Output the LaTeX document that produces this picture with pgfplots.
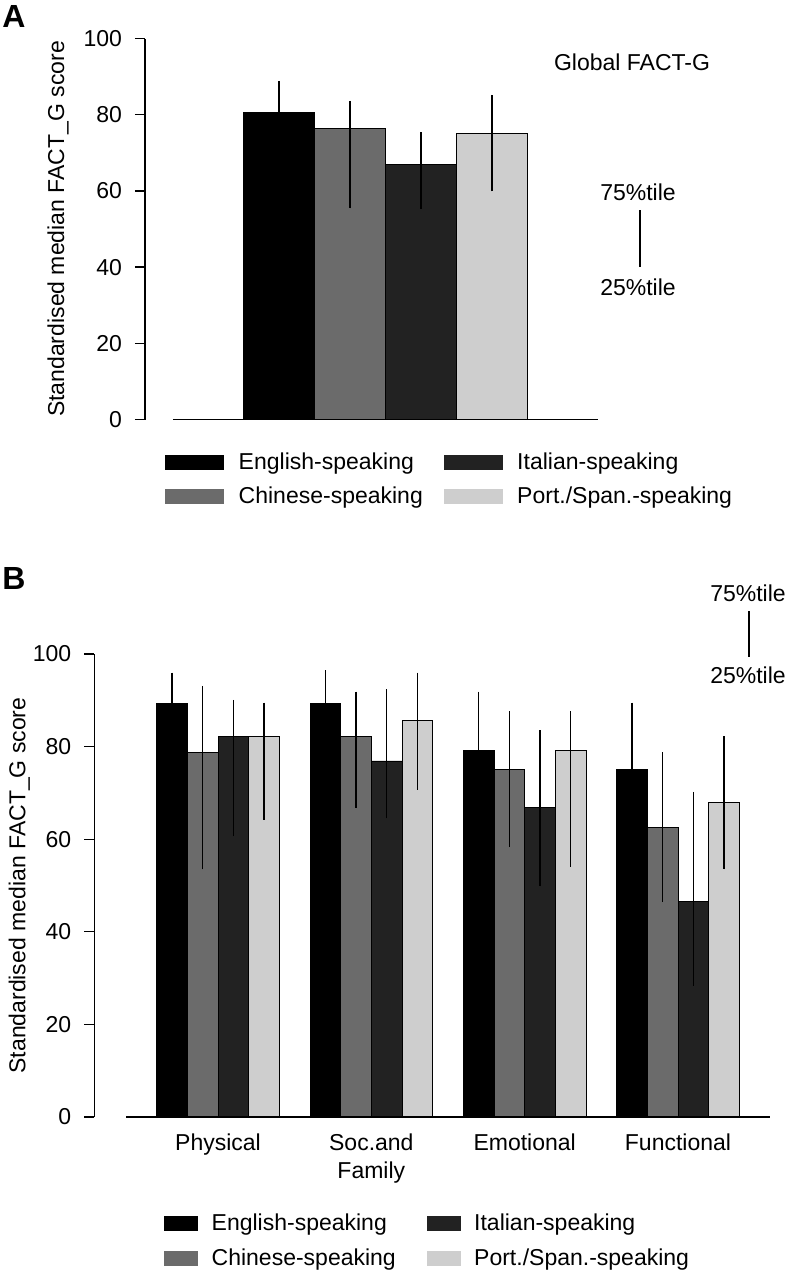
\documentclass[border=0pt]{standalone}
\usepackage{fontspec}
\setmainfont{Liberation Sans}
\usepackage{pgfplots}
\pgfplotsset{compat=1.18}
\usepackage{pgfplotstable}

\definecolor{cEng}{HTML}{000000}
\definecolor{cChi}{HTML}{6B6B6B}
\definecolor{cIta}{HTML}{222222}
\definecolor{cPor}{HTML}{CECECE}

% x = slot centre, y = median, lo/hi = 25th/75th percentile
\pgfplotstableread{
x y lo hi
1.5 80.5 70.0 88.9
}\AEng
\pgfplotstableread{
x y lo hi
2.5 76.3 55.4 83.6
}\AChi
\pgfplotstableread{
x y lo hi
3.5 67.0 55.3 75.5
}\AIta
\pgfplotstableread{
x y lo hi
4.5 75.0 59.9 85.2
}\APor

\pgfplotstableread{
x y lo hi
1.5 89.4 80.0 96.0
6.5 89.4 80.0 96.5
11.5 79.1 65.0 91.9
16.5 75.0 60.0 89.5
}\BEng
\pgfplotstableread{
x y lo hi
2.5 78.7 53.5 93.1
7.5 82.2 66.7 91.9
12.5 75.0 58.3 87.6
17.5 62.6 46.4 78.8
}\BChi
\pgfplotstableread{
x y lo hi
3.5 82.2 60.6 90.1
8.5 76.9 64.5 92.4
13.5 66.8 49.8 83.5
18.5 46.5 28.4 70.2
}\BIta
\pgfplotstableread{
x y lo hi
4.5 82.2 64.2 89.5
9.5 85.7 70.7 96.0
14.5 79.1 54.1 87.6
19.5 67.9 53.5 82.2
}\BPor

\newcommand\lab{\fontsize{11.5}{14}\selectfont}

\pgfplotsset{
  fact/.style={
    scale only axis,
    axis x line=bottom, axis y line=left,
    axis line style={-, line width=0.65pt},
    x axis line style={draw=none},
    ymin=0, ymax=100, ytick={0,20,...,100},
    tick align=outside, major tick length=5pt,
    ytick style={line width=0.65pt, black},
    xtick style={draw=none},
    ybar, bar shift=0pt, bar width=1,
    tick label style={font=\lab},
    yticklabel style={/pgf/number format/assume math mode=true, xshift=-3pt},
    ylabel={Standardised median FACT\_G score},
    label style={font=\lab},
    legend columns=2,
    legend cell align=left,
    legend style={draw=none, fill=none, font=\lab,
      anchor=north west, inner sep=0pt, row sep=3.5pt},
  },
  bars/.style={fill=#1, draw=black, line width=0.4pt,
    /pgfplots/table/x=x, /pgfplots/table/y=y,
    /pgfplots/table/y error plus expr=\thisrow{hi}-\thisrow{y},
    /pgfplots/table/y error minus expr=\thisrow{y}-\thisrow{lo},
    error bars/.cd, y dir=both, y explicit, error mark=none,
    error bar style={line width=0.8pt, black}},
}

\begin{document}
\begin{tikzpicture}
\path[use as bounding box] (0,0) rectangle (394pt,-635.5pt);

% ---------- panel A ----------
\node[anchor=north west, inner sep=0pt, font=\fontsize{16}{16}\selectfont\bfseries] at (1pt,-2.5pt) {A};
\begin{axis}[fact,
  at={(72.5pt,-209.75pt)}, anchor=south west,
  width=226.5pt, height=190.5pt,
  xmin=-0.395, xmax=6, xtick=\empty,
  ylabel style={at={(axis description cs:-0.192,0.5)}, anchor=center},
  legend style={at={(axis description cs:0.044,-0.075)},
    /tikz/every even column/.append style={column sep=8.5pt}},
  legend image code/.code={\fill[#1, draw=none] (0pt,-3.75pt) rectangle (29.5pt,3.75pt);
    \path (34.5pt,0pt);},
]
\addplot[bars=cEng] table {\AEng};
\addplot[bars=cIta] table {\AIta};
\addplot[bars=cChi] table {\AChi};
\addplot[bars=cPor] table {\APor};
\draw[line width=0.65pt] (axis cs:0,0) -- (axis cs:6,0);
\legend{English-speaking, Italian-speaking, Chinese-speaking, Port./Span.-speaking}
\end{axis}
\node[font=\lab] at (316pt,-31pt) {Global FACT-G};
\node[font=\lab] at (319pt,-96pt) {75\%tile};
\draw[line width=0.65pt] (320pt,-105pt) -- (320pt,-133.5pt);
\node[font=\lab] at (319pt,-143.5pt) {25\%tile};

% ---------- panel B ----------
\node[anchor=north west, inner sep=0pt, font=\fontsize{16}{16}\selectfont\bfseries] at (1pt,-283.5pt) {B};
\begin{axis}[fact,
  at={(47.15pt,-558.5pt)}, anchor=south west,
  width=337.85pt, height=231.5pt,
  xmin=-1.034, xmax=21,
  xtick={3,8,13,18},
  xticklabels={Physical,{Soc.and\\Family},Emotional,Functional},
  xticklabel style={align=center},
  ylabel style={at={(axis description cs:-0.111,0.5)}, anchor=center},
  legend style={at={(axis description cs:0.103,-0.2)},
    /tikz/every even column/.append style={column sep=13.5pt}},
  legend image code/.code={\fill[#1, draw=none] (0pt,-3.75pt) rectangle (17pt,3.75pt);
    \path (21.5pt,0pt);},
]
\addplot[bars=cEng] table {\BEng};
\addplot[bars=cIta] table {\BIta};
\addplot[bars=cChi] table {\BChi};
\addplot[bars=cPor] table {\BPor};
\draw[line width=0.65pt] (axis cs:0,0) -- (axis cs:21,0);
\legend{English-speaking, Italian-speaking, Chinese-speaking, Port./Span.-speaking}
\end{axis}
\node[font=\lab] at (374pt,-296.5pt) {75\%tile};
\draw[line width=0.65pt] (374.5pt,-305.5pt) -- (374.5pt,-328.5pt);
\node[font=\lab] at (374pt,-337.5pt) {25\%tile};
\end{tikzpicture}
\end{document}
